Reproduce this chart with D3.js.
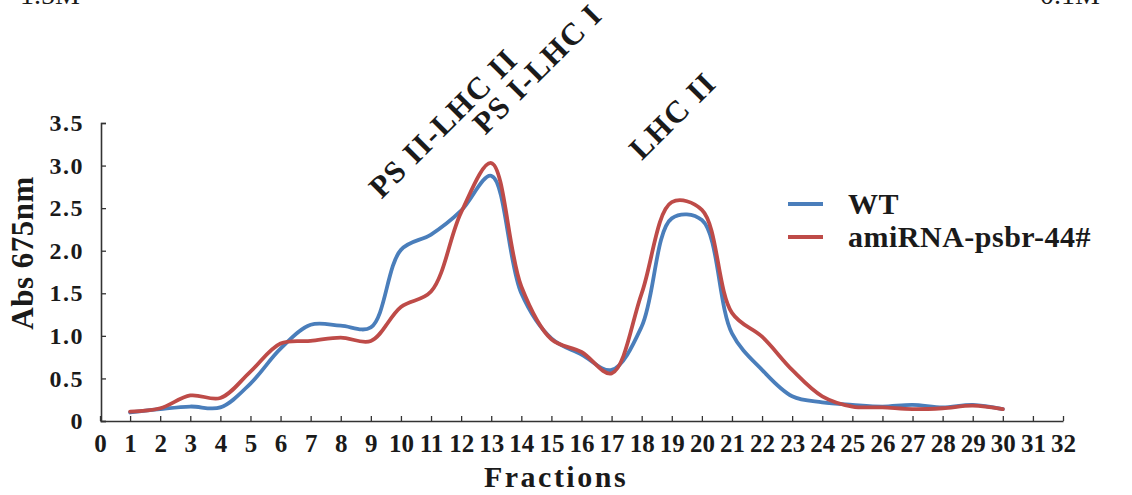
<!DOCTYPE html>
<html>
<head>
<meta charset="utf-8">
<script src="https://cdn.jsdelivr.net/npm/d3@7"></script>
<style>
  html, body { margin: 0; padding: 0; background: #fff; }
  svg { display: block; }
  text { font-family: "Liberation Serif", "Times New Roman", serif; font-weight: bold; fill: #1a1a1a; }
</style>
</head>
<body>
<svg id="chart" width="1132" height="495"></svg>
<script>
// ---- data ----
const fractions = d3.range(1, 31);
const wt =      [0.10, 0.14, 0.17, 0.16, 0.44, 0.85, 1.13, 1.12, 1.10, 2.01, 2.19, 2.47, 2.88, 1.50, 0.97, 0.78, 0.60, 1.11, 2.38, 2.36, 1.03, 0.60, 0.29, 0.22, 0.19, 0.17, 0.19, 0.16, 0.19, 0.14];
const amirna =  [0.11, 0.15, 0.30, 0.27, 0.58, 0.91, 0.94, 0.98, 0.94, 1.34, 1.52, 2.45, 3.03, 1.58, 0.96, 0.81, 0.56, 1.50, 2.57, 2.48, 1.27, 0.99, 0.60, 0.29, 0.17, 0.16, 0.14, 0.15, 0.18, 0.14];
const seriesNames = ["WT", "amiRNA-psbr-44#"];
const seriesColors = ["#4a7ebb", "#be4b48"];
const xTicks = d3.range(0, 33);
const yTicks = [0, 0.5, 1.0, 1.5, 2.0, 2.5, 3.0, 3.5];
const peakLabels = [
  { text: "PS II-LHC II", f: 9.35, v: 2.6 },
  { text: "PS I-LHC I",   f: 12.8, v: 3.35 },
  { text: "LHC II",       f: 18.0, v: 3.05 }
];

// ---- layout ----
const svg = d3.select("#chart");
const x = d3.scaleLinear().domain([0, 32]).range([100, 1063]);
const y = d3.scaleLinear().domain([0, 3.5]).range([421, 123]);

// cut-off header fragments
svg.append("text").attr("x", 20).attr("y", 4).style("font-size", "28px").style("font-weight", "normal").text("1.5M");
svg.append("text").attr("x", 1100).attr("y", 4).attr("text-anchor", "end").style("font-size", "28px").style("font-weight", "normal").text("0.1M");

// axes
const axisColor = "#333";
const xAxis = d3.axisBottom(x).tickValues(xTicks).tickSizeInner(-5).tickSizeOuter(0).tickPadding(13).tickFormat(d3.format("d"));
const gx = svg.append("g").attr("transform", "translate(0,421)").call(xAxis);
gx.select(".domain").attr("stroke", axisColor).attr("stroke-width", 1.6);
gx.selectAll(".tick line").attr("stroke", axisColor).attr("stroke-width", 1.3);
gx.selectAll(".tick text").attr("fill", "#1a1a1a")
  .style("font-family", "Liberation Serif, serif").style("font-weight", "bold").style("font-size", "25px");

const yAxis = d3.axisLeft(y).tickValues(yTicks).tickSizeInner(-5).tickSizeOuter(-5).tickPadding(17)
  .tickFormat(d => d === 0 ? "0" : d.toFixed(1));
const gy = svg.append("g").attr("transform", "translate(101,0)").call(yAxis);
gy.select(".domain").attr("stroke", axisColor).attr("stroke-width", 1.6);
gy.selectAll(".tick line").attr("stroke", axisColor).attr("stroke-width", 1.3);
gy.selectAll(".tick text").attr("fill", "#1a1a1a")
  .style("font-family", "Liberation Serif, serif").style("font-weight", "bold").style("font-size", "24px")
  .style("letter-spacing", "1.5px");

// axis titles
svg.append("text").attr("x", 556).attr("y", 487).attr("text-anchor", "middle")
  .style("font-size", "30px").style("letter-spacing", "2.5px").text("Fractions");
svg.append("text").attr("transform", "translate(33,253) rotate(-90)").attr("text-anchor", "middle")
  .style("font-size", "31px").style("letter-spacing", "0.5px").text("Abs 675nm");

// lines
const line = d3.line().x(d => x(d[0])).y(d => y(d[1])).curve(d3.curveCatmullRom.alpha(0.5));
[wt, amirna].forEach((vals, i) => {
  svg.append("path")
    .datum(fractions.map((f, j) => [f, vals[j]]))
    .attr("fill", "none")
    .attr("stroke", seriesColors[i])
    .attr("stroke-width", 3.8)
    .attr("stroke-linejoin", "round")
    .attr("stroke-linecap", "round")
    .attr("d", line);
});

// peak labels
svg.selectAll(".peak").data(peakLabels).enter().append("text")
  .attr("class", "peak")
  .attr("transform", d => `translate(${x(d.f)},${y(d.v)}) rotate(-45)`)
  .style("font-size", "31px").style("letter-spacing", "1.5px")
  .text(d => d.text);

// legend
const lg = svg.append("g");
seriesNames.forEach((name, i) => {
  const yy = 204 + i * 33;
  lg.append("line").attr("x1", 788).attr("x2", 823).attr("y1", yy).attr("y2", yy)
    .attr("stroke", seriesColors[i]).attr("stroke-width", 4);
  lg.append("text").attr("x", 848).attr("y", yy + 10).style("font-size", "30px")
    .style("letter-spacing", "0.5px").text(name);
});
</script>
</body>
</html>
